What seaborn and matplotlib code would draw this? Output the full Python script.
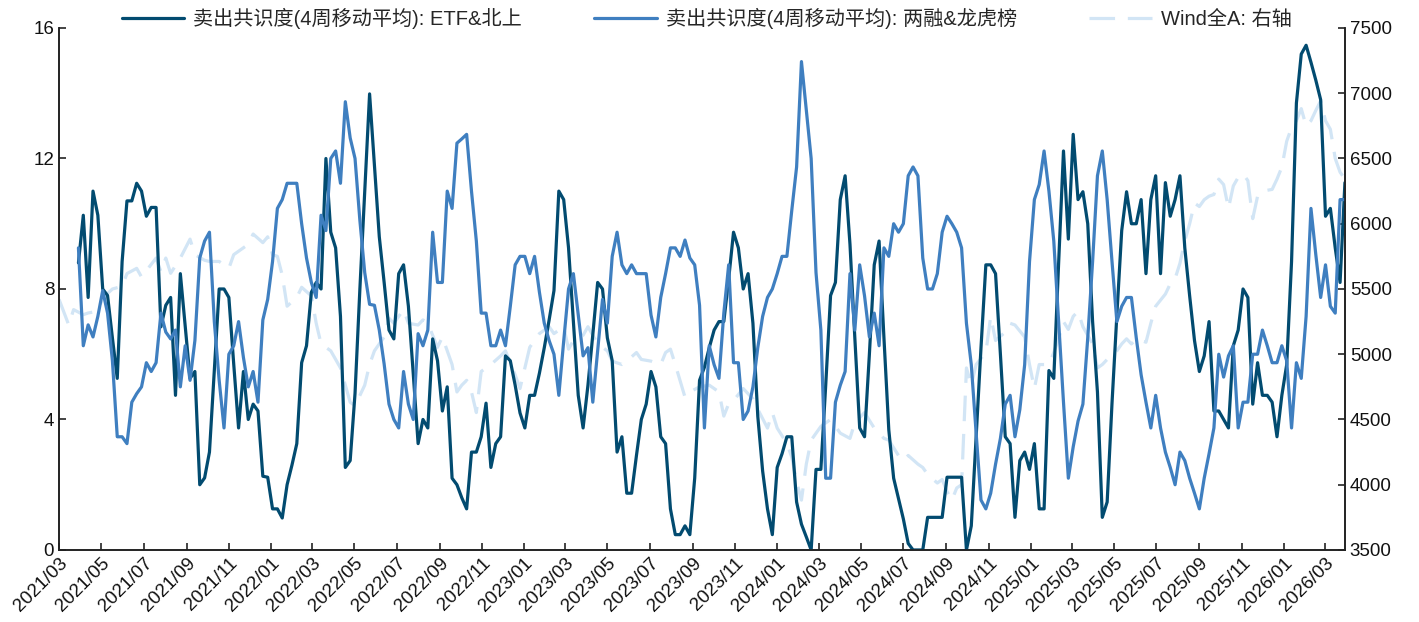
import pandas as pd
import matplotlib.pyplot as plt
import matplotlib.dates as mdates
import seaborn as sns

# weekly values, first week = 2021-03-29
etf_vals = [8.8, 10.26, 7.74, 11.0, 10.26, 8.0, 7.8, 6.5, 5.26, 8.84, 10.7, 10.7, 11.24, 11.0, 10.23, 10.5,
            10.5, 6.84, 7.5, 7.74, 4.74, 8.47, 6.87, 5.26, 5.47, 2.0, 2.21, 3.0, 5.5, 8.0, 8.0, 7.74,
            5.7, 3.74, 5.47, 4.0, 4.47, 4.26, 2.26, 2.23, 1.26, 1.26, 0.98, 2.0, 2.6, 3.26, 5.74, 6.26,
            7.9, 8.2, 8.0, 12.0, 9.74, 9.26, 7.16, 2.53, 2.74, 4.8, 8.0, 11.0, 13.98, 11.8, 9.6, 8.2,
            6.74, 6.47, 8.47, 8.74, 7.47, 5.4, 3.26, 4.0, 3.74, 6.47, 5.8, 4.26, 5.0, 2.2, 2.0, 1.6,
            1.26, 3.0, 3.0, 3.47, 4.5, 2.53, 3.26, 3.47, 5.95, 5.8, 5.05, 4.2, 3.74, 4.74, 4.74, 5.42,
            6.2, 7.05, 7.95, 11.0, 10.74, 9.26, 7.0, 4.74, 3.74, 5.05, 6.6, 8.2, 8.0, 6.5, 5.8, 3.0,
            3.47, 1.74, 1.74, 2.9, 4.0, 4.47, 5.47, 5.0, 3.47, 3.26, 1.26, 0.47, 0.47, 0.74, 0.47, 2.2,
            5.2, 5.6, 6.2, 6.74, 7.0, 7.0, 8.3, 9.74, 9.26, 8.0, 8.47, 6.95, 4.1, 2.42, 1.26, 0.47,
            2.53, 2.95, 3.47, 3.47, 1.47, 0.79, 0.4, 0.0, 2.47, 2.47, 5.05, 7.8, 8.2, 10.74, 11.47, 9.37,
            6.5, 3.74, 3.47, 6.0, 8.74, 9.47, 6.5, 3.68, 2.2, 1.58, 0.95, 0.2, 0.0, 0.0, 0.0, 1.0,
            1.0, 1.0, 1.0, 2.23, 2.23, 2.23, 2.23, 0.0, 0.74, 3.5, 6.2, 8.74, 8.74, 8.47, 6.0, 3.47,
            3.26, 1.0, 2.74, 3.0, 2.47, 3.26, 1.26, 1.26, 5.5, 5.26, 8.8, 12.23, 9.53, 12.74, 10.74, 10.98,
            10.0, 7.0, 4.84, 1.0, 1.47, 4.5, 7.2, 9.79, 10.98, 10.0, 10.0, 10.74, 8.47, 10.74, 11.47, 8.47,
            11.26, 10.23, 10.74, 11.47, 9.26, 7.79, 6.42, 5.47, 5.95, 7.0, 4.26, 4.26, 4.0, 3.74, 6.26, 6.74,
            8.0, 7.74, 4.47, 5.74, 4.74, 4.74, 4.53, 3.47, 4.74, 5.68, 8.84, 13.7, 15.2, 15.47, 14.95, 14.4,
            13.8, 10.23, 10.47, 9.26, 8.2, 11.26]

margin_vals = [9.26, 6.26, 6.9, 6.53, 7.16, 7.95, 7.26, 5.8, 3.47, 3.47, 3.26, 4.53, 4.79, 5.0, 5.74, 5.47,
               5.74, 7.26, 6.68, 6.47, 6.74, 5.0, 6.26, 5.2, 6.42, 8.95, 9.47, 9.74, 7.0, 5.2, 3.74, 6.0,
               6.26, 7.0, 5.9, 5.0, 5.47, 4.53, 7.05, 7.68, 8.84, 10.47, 10.74, 11.24, 11.24, 11.24, 10.0, 8.95,
               8.2, 7.74, 10.26, 9.79, 12.0, 12.23, 11.24, 13.74, 12.63, 12.0, 10.1, 8.5, 7.53, 7.5, 6.74, 5.7,
               4.47, 4.0, 3.74, 5.47, 4.47, 4.0, 6.63, 6.26, 6.74, 9.74, 8.2, 8.2, 11.0, 10.47, 12.47, 12.6,
               12.74, 11.0, 9.47, 7.26, 7.26, 6.26, 6.26, 6.74, 6.26, 7.47, 8.74, 9.0, 9.0, 8.47, 9.0, 7.9,
               6.95, 6.42, 6.0, 4.74, 6.4, 8.0, 8.47, 7.2, 5.95, 6.2, 4.53, 6.1, 7.68, 6.95, 9.0, 9.74,
               8.74, 8.47, 8.74, 8.47, 8.47, 8.47, 7.2, 6.53, 7.74, 8.47, 9.26, 9.26, 9.0, 9.5, 8.95, 8.74,
               7.5, 3.74, 6.26, 5.68, 5.26, 7.26, 8.74, 5.74, 5.74, 4.0, 4.26, 5.0, 6.2, 7.16, 7.74, 8.0,
               8.47, 9.0, 9.0, 10.4, 11.74, 14.97, 13.5, 12.0, 8.5, 6.74, 2.2, 2.2, 4.53, 5.05, 5.47, 8.47,
               6.74, 8.74, 7.79, 6.53, 7.26, 6.26, 9.26, 9.0, 10.0, 9.74, 10.0, 11.47, 11.74, 11.47, 8.95, 8.0,
               8.0, 8.47, 9.74, 10.23, 10.0, 9.74, 9.26, 6.95, 5.68, 3.58, 1.53, 1.26, 1.74, 2.63, 3.42, 4.47,
               4.74, 3.47, 4.3, 5.68, 8.84, 10.74, 11.2, 12.23, 11.0, 9.47, 7.0, 4.53, 2.2, 3.16, 3.95, 4.47,
               6.5, 8.84, 11.47, 12.23, 10.74, 8.84, 7.0, 7.47, 7.74, 7.74, 6.5, 5.37, 4.53, 3.74, 4.74, 3.74,
               3.0, 2.53, 2.0, 3.0, 2.74, 2.2, 1.74, 1.26, 2.2, 2.95, 3.74, 6.0, 5.3, 5.95, 6.26, 3.74,
               4.53, 4.53, 6.0, 6.0, 6.74, 6.26, 5.74, 5.74, 6.26, 5.8, 3.74, 5.74, 5.26, 7.16, 10.47, 9.05,
               7.74, 8.74, 7.47, 7.26, 10.74, 10.74]

# Wind全A, week number counted from 2021-03-01
wind_week = [0, 2, 3, 5, 6, 8, 9, 11, 13, 14, 16, 17, 20, 21, 22, 23, 25, 27, 28, 30, 31, 33, 35, 36,
             39, 40, 42, 43, 44, 45, 46, 47, 49, 50, 52, 53, 54, 56, 58, 59, 60, 61, 63, 64, 65, 67, 68, 69,
             71, 72, 74, 75, 76, 78, 79, 81, 82, 83, 84, 85, 86, 87, 88, 89, 91, 92, 94, 95, 96, 97, 99, 101,
             102, 104, 105, 106, 108, 109, 111, 113, 114, 116, 117, 119, 120, 122, 124, 125, 126, 127, 129, 130,
             132, 134, 136, 137, 138, 139, 141, 142, 143, 144, 146, 147, 148, 150, 151, 152, 153, 154, 155, 157,
             159, 160, 161, 163, 164, 166, 168, 170, 171, 173, 174, 175, 177, 178, 179, 181, 182, 183, 184, 185,
             186, 187, 188, 189, 191, 192, 193, 195, 196, 197, 199, 200, 201, 202, 204, 205, 206, 207, 208, 209,
             210, 211, 213, 214, 215, 216, 218, 219, 220, 221, 222, 224, 225, 226, 228, 229, 230, 231, 232, 233,
             234, 235, 236, 237, 238, 239, 240, 241, 242, 243, 244, 245, 246, 247, 248, 250, 251, 252, 253, 254,
             255, 256, 257, 258, 259, 260, 261, 262, 263, 264, 265]
wind_vals = [5421, 5224, 5342, 5303, 5316, 5330, 5430, 5500, 5520, 5618, 5658, 5592, 5737, 5632, 5737, 5620,
             5737, 5882, 5763, 5720, 5711, 5711, 5658, 5763, 5842, 5921, 5855, 5900, 5763, 5750, 5605, 5368,
             5435, 5513, 5447, 5237, 5079, 5026, 4895, 4763, 4632, 4605, 4763, 4921, 5026, 5132, 5276, 5237,
             5342, 5237, 5224, 5263, 5237, 5053, 5132, 4921, 4711, 4763, 4800, 4711, 4553, 4868, 4895, 4921,
             4987, 5026, 4842, 4737, 4895, 5053, 5158, 5211, 5158, 5211, 5039, 5105, 5145, 5211, 5079, 5026,
             4947, 4921, 4947, 5013, 4960, 4947, 4921, 5013, 5039, 4921, 4671, 4711, 4750, 4763, 4711, 4526,
             4620, 4645, 4737, 4697, 4658, 4579, 4434, 4553, 4434, 4316, 4211, 4026, 3882, 4158, 4342, 4447,
             4500, 4447, 4395, 4355, 4475, 4553, 4434, 4355, 4342, 4224, 4184, 4224, 4158, 4132, 4079, 4013,
             4040, 3947, 3882, 3975, 4000, 4895, 4763, 4921, 5013, 5289, 5105, 5170, 5237, 5224, 5132, 4921,
             4737, 4921, 4921, 5013, 5118, 5250, 5190, 5290, 5329, 5211, 5079, 4895, 4921, 4960, 5026, 5079,
             5118, 5079, 5118, 5092, 5237, 5368, 5461, 5539, 5579, 5697, 5868, 6000, 6158, 6132, 6184, 6211,
             6224, 6342, 6300, 6118, 6290, 6355, 6382, 6330, 6039, 6211, 6250, 6263, 6342, 6434, 6632, 6737,
             6789, 6882, 6750, 6789, 6868, 6942, 6789, 6724, 6500, 6395, 6342]

labels = ["卖出共识度(4周移动平均): ETF&北上", "卖出共识度(4周移动平均): 两融&龙虎榜", "Wind全A: 右轴"]
colors = ["#024B70", "#3F7FC0", "#D2E5F5"]

start = pd.Timestamp("2021-03-01")
df = pd.DataFrame({"date": start + pd.to_timedelta(range(4, 4 + len(etf_vals)), unit="W"),
                   "etf": etf_vals, "margin": margin_vals})
wind = pd.DataFrame({"date": start + pd.to_timedelta(wind_week, unit="W"), "wind": wind_vals})

sns.set_style("ticks")
plt.rcParams["font.family"] = ["Liberation Sans", "Noto Sans CJK SC", "DejaVu Sans"]

fig = plt.figure(figsize=(14.19, 6.22), dpi=100)
ax = fig.add_axes([0.0416, 0.1158, 0.9062, 0.8392])
ax2 = ax.twinx()

sns.lineplot(data=wind, x="date", y="wind", ax=ax2, color=colors[2], linewidth=2.3,
             linestyle=(0, (8, 4)), label=labels[2], legend=False)
sns.lineplot(data=df, x="date", y="etf", ax=ax, color=colors[0], linewidth=2.3, label=labels[0], legend=False)
sns.lineplot(data=df, x="date", y="margin", ax=ax, color=colors[1], linewidth=2.3, label=labels[1], legend=False)

# left axis lines on top of the dashed index line
ax.set_zorder(ax2.get_zorder() + 1)
ax.patch.set_visible(False)

ax.set_ylim(0, 16)
ax.set_yticks([0, 4, 8, 12, 16])
ax2.set_ylim(3500, 7500)
ax2.set_yticks(range(3500, 7501, 500))
ax.set_xlim(start, start + pd.Timedelta(weeks=265))
ax.xaxis.set_major_locator(mdates.MonthLocator(bymonth=[1, 3, 5, 7, 9, 11]))
ax.xaxis.set_major_formatter(mdates.DateFormatter("%Y/%m"))
for a in (ax, ax2):
    a.set_xlabel("")
    a.set_ylabel("")
    a.spines["top"].set_visible(False)
    for s in a.spines.values():
        s.set_linewidth(1.2)
        s.set_color("#222222")
    a.tick_params(direction="in", length=5, width=1.1, labelsize=13.5, colors="#111111")
plt.setp(ax.get_xticklabels(), rotation=45, ha="right", rotation_mode="anchor")

handles = ax.get_lines()[:2] + ax2.get_lines()[:1]
fig.legend(handles, labels, loc="center", bbox_to_anchor=(0.498, 0.970), ncol=3, frameon=False,
           fontsize=14.5, handlelength=3.1, handletextpad=0.45, columnspacing=3.6)

fig.savefig("out.png", dpi=100)
